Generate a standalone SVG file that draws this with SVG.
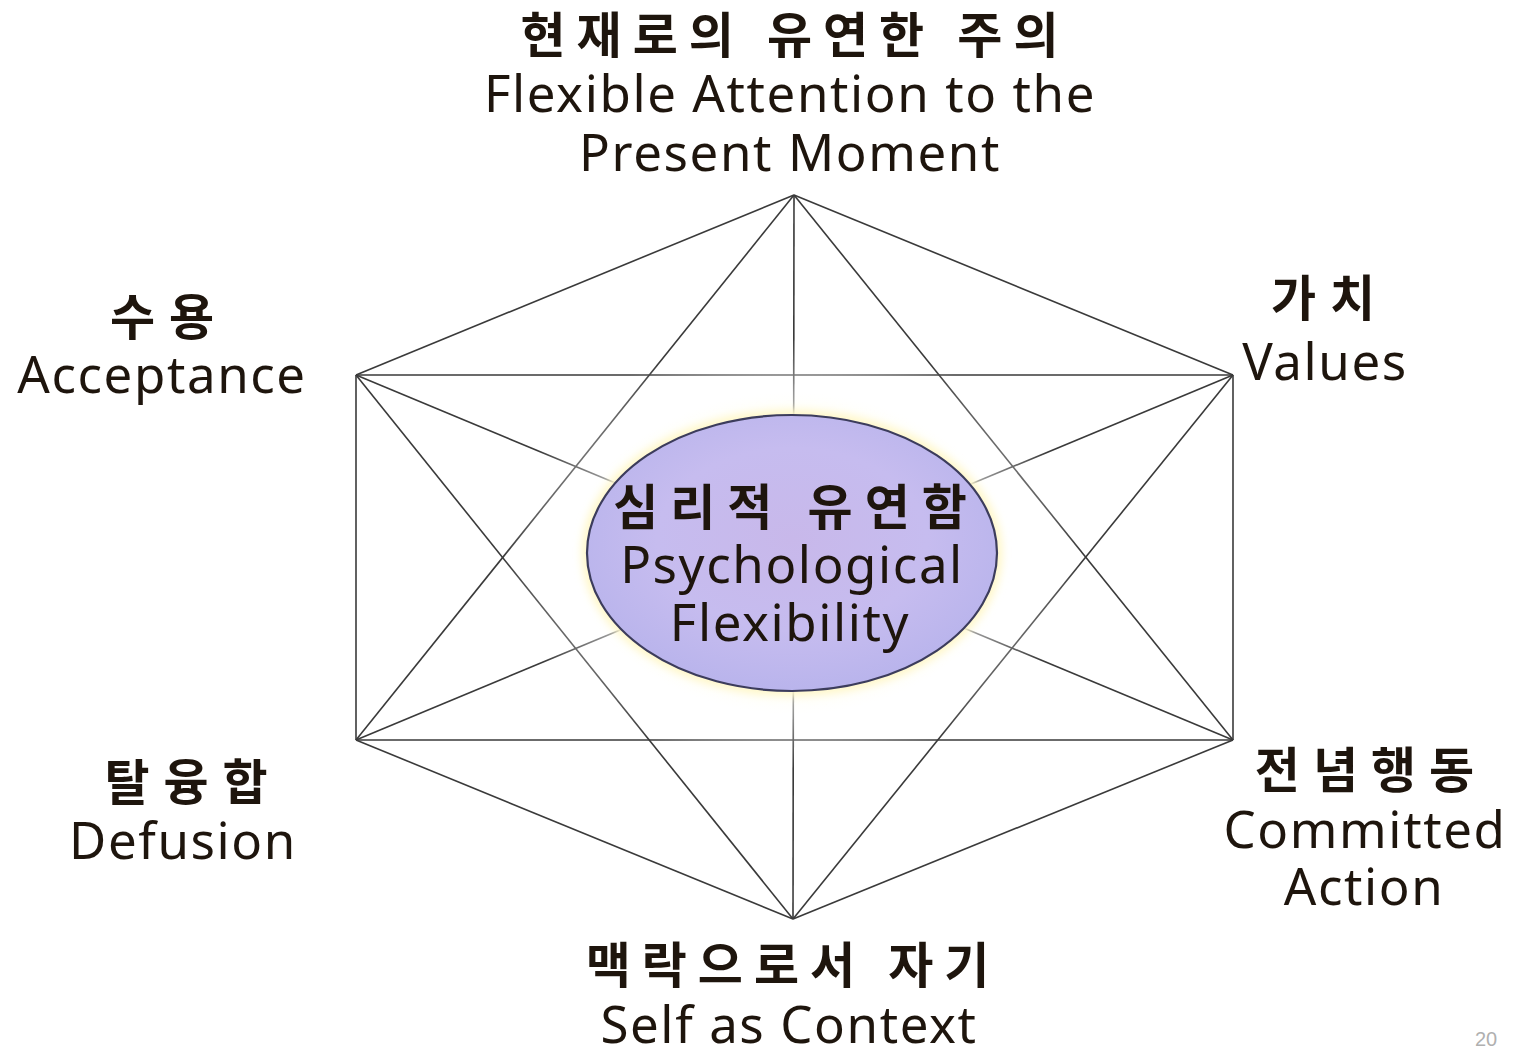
<svg xmlns="http://www.w3.org/2000/svg" width="1520" height="1054" viewBox="0 0 1520 1054">
<defs>
<style>
.ko{font-family:"Noto Sans CJK KR","Noto Sans",sans-serif;font-weight:700;fill:#1e150d;text-anchor:middle;font-size:49px}
.en{font-family:"Noto Sans","Open Sans","Noto Sans CJK KR",sans-serif;font-weight:400;fill:#1e150d;text-anchor:middle;font-size:51px;letter-spacing:1.6px}
.ln{stroke:#3a3a3a;stroke-width:1.6;fill:none}
</style>
<radialGradient id="fill" cx="50%" cy="45%" r="55%">
<stop offset="0" stop-color="#c8b8ea"/>
<stop offset="0.6" stop-color="#c6bcef"/>
<stop offset="1" stop-color="#b9b4ec"/>
</radialGradient>
<radialGradient id="glow" cx="50%" cy="50%" r="50%">
<stop offset="0.55" stop-color="#fffde8" stop-opacity="1"/>
<stop offset="0.75" stop-color="#ffffff" stop-opacity="0.6"/>
<stop offset="1" stop-color="#ffffff" stop-opacity="0"/>
</radialGradient>
<filter id="blur" x="-20%" y="-20%" width="140%" height="140%"><feGaussianBlur stdDeviation="4"/></filter>
</defs>
<rect width="1520" height="1054" fill="#ffffff"/>
<g id="connectors">
<line class="ln" x1="794" y1="195" x2="356" y2="375"/>
<line class="ln" x1="794" y1="195" x2="1233" y2="375"/>
<line class="ln" x1="794" y1="195" x2="356" y2="740"/>
<line class="ln" x1="794" y1="195" x2="1233" y2="740"/>
<line class="ln" x1="794" y1="195" x2="793" y2="919"/>
<line class="ln" x1="356" y1="375" x2="1233" y2="375"/>
<line class="ln" x1="356" y1="375" x2="356" y2="740"/>
<line class="ln" x1="356" y1="375" x2="1233" y2="740"/>
<line class="ln" x1="356" y1="375" x2="793" y2="919"/>
<line class="ln" x1="1233" y1="375" x2="356" y2="740"/>
<line class="ln" x1="1233" y1="375" x2="1233" y2="740"/>
<line class="ln" x1="1233" y1="375" x2="793" y2="919"/>
<line class="ln" x1="356" y1="740" x2="1233" y2="740"/>
<line class="ln" x1="356" y1="740" x2="793" y2="919"/>
<line class="ln" x1="1233" y1="740" x2="793" y2="919"/>
</g>
<g id="center">
<ellipse cx="792" cy="553" rx="290" ry="215" fill="url(#glow)" opacity="0.75"/>
<ellipse cx="792" cy="553" rx="210" ry="143" fill="#fff7c8" filter="url(#blur)"/>
<ellipse cx="792" cy="553" rx="205" ry="138" fill="url(#fill)" stroke="#3c3c5c" stroke-width="2.2"/>
<text class="ko" x="796" y="525" letter-spacing="12">심리적 유연함</text>
<text class="en" x="792" y="583">Psychological</text>
<text class="en" x="790" y="641">Flexibility</text>
</g>
<g id="present">
<text class="ko" x="795" y="53" letter-spacing="11">현재로의 유연한 주의</text>
<text class="en" x="790" y="112">Flexible Attention to the</text>
<text class="en" x="790" y="171">Present Moment</text>
</g>
<g id="acceptance">
<text class="ko" x="169" y="335" letter-spacing="14">수용</text>
<text class="en" x="162" y="393">Acceptance</text>
</g>
<g id="values">
<text class="ko" x="1330" y="316" letter-spacing="14">가치</text>
<text class="en" x="1325" y="380">Values</text>
</g>
<g id="defusion">
<text class="ko" x="193" y="800" letter-spacing="14">탈융합</text>
<text class="en" x="183" y="859">Defusion</text>
</g>
<g id="committed">
<text class="ko" x="1371" y="788" letter-spacing="13">전념행동</text>
<text class="en" x="1365" y="848">Committed</text>
<text class="en" x="1364" y="905">Action</text>
</g>
<g id="self">
<text class="ko" x="793" y="983" letter-spacing="11">맥락으로서 자기</text>
<text class="en" x="789" y="1043">Self as Context</text>
</g>
<text x="1486" y="1046" font-family="Liberation Sans,sans-serif" font-size="20" fill="#b0b0b0" text-anchor="middle">20</text>
</svg>
